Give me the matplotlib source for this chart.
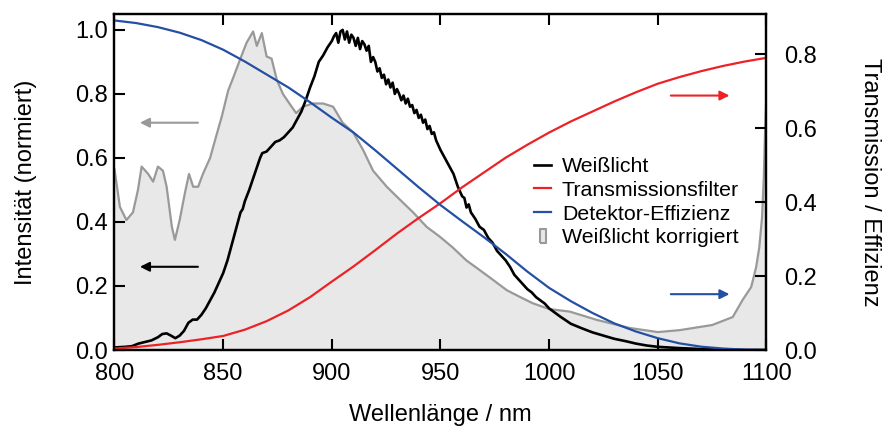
import matplotlib
matplotlib.use('Agg')
import matplotlib.pyplot as plt
from matplotlib.lines import Line2D
import numpy as np

plt.rcParams['font.family'] = ['Liberation Sans', 'DejaVu Sans']

# Weisslicht (black), left axis
wl_black = [800, 805, 808, 811, 814, 817, 820, 822, 824, 826, 828, 830, 832, 834, 836, 838,
            840, 842, 844, 846, 848, 850, 852, 854, 856, 858, 859, 860, 862, 864, 866, 867,
            868, 870, 872, 874, 876, 878, 880, 882, 884, 886, 888, 890, 892, 894, 896, 898,
            900, 901, 902, 903, 904, 905, 906, 907, 908, 909, 910, 911, 912, 913, 914, 915,
            916, 917, 918, 919, 920, 921, 922, 923, 924, 925, 926, 927, 928, 929, 930, 931,
            932, 933, 934, 935, 936, 937, 938, 939, 940, 941, 942, 943, 944, 945, 946, 947,
            948, 950, 952, 954, 956, 958, 960, 961, 962, 963, 964, 966, 968, 970, 972, 974,
            976, 978, 980, 982, 984, 986, 988, 990, 992, 994, 996, 998, 1000, 1005, 1010,
            1015, 1020, 1025, 1030, 1035, 1040, 1045, 1050, 1060, 1070, 1080, 1090, 1100]
int_black = [0.008, 0.01, 0.012, 0.02, 0.025, 0.03, 0.04, 0.05, 0.052, 0.045, 0.037, 0.045,
             0.06, 0.085, 0.095, 0.095, 0.11, 0.13, 0.155, 0.18, 0.21, 0.24, 0.28, 0.33, 0.38,
             0.43, 0.44, 0.465, 0.5, 0.54, 0.58, 0.6, 0.615, 0.62, 0.635, 0.65, 0.655, 0.665,
             0.68, 0.695, 0.72, 0.745, 0.78, 0.82, 0.855, 0.9, 0.92, 0.945,
             0.965, 0.98, 0.99, 0.96, 0.995, 1.0, 0.97, 0.995, 0.96, 0.985, 0.975, 0.95,
             0.975, 0.94, 0.965, 0.955, 0.935, 0.95, 0.9, 0.915, 0.9, 0.87, 0.88, 0.85,
             0.86, 0.83, 0.845, 0.82, 0.835, 0.8, 0.815, 0.8, 0.78, 0.795, 0.77, 0.785, 0.76,
             0.765, 0.74, 0.75, 0.725, 0.735, 0.71, 0.72, 0.69, 0.7, 0.675, 0.68, 0.655,
             0.625, 0.6, 0.575, 0.55, 0.51, 0.48, 0.475, 0.445, 0.455, 0.43, 0.41, 0.385,
             0.375, 0.35, 0.335, 0.31, 0.295, 0.28, 0.26, 0.235, 0.22, 0.205, 0.19, 0.18,
             0.165, 0.155, 0.145, 0.13, 0.105, 0.082, 0.068, 0.055, 0.045, 0.035, 0.028, 0.02,
             0.014, 0.01, 0.006, 0.003, 0.001, 0.0, 0.0]

# Weisslicht korrigiert (grey, filled), left axis
wl_grey = [800, 802.5, 805.5, 808.5, 810.8, 812.5, 815.5, 817.8, 820, 822.3, 824, 826.4,
           827.8, 830, 832.4, 834.3, 836.2, 838.5, 840.7, 844, 846.3, 849.4, 852.3, 854.6,
           857.7, 860.8, 863.8, 865.5, 867.8, 870, 872.3, 874.7, 877.5, 880.5, 883.6, 886.7,
           891.3, 896, 900.6, 905, 909.8, 914.4, 919, 925.3, 931.3, 937.4, 943.6, 949.7,
           955.7, 961.9, 968, 974, 980.5, 986.5, 992.5, 1000, 1009.5, 1022, 1037, 1050,
           1060, 1075, 1084.5, 1089, 1093, 1095.3, 1096.7, 1098, 1098.8, 1099.3, 1100]
int_grey = [0.565, 0.447, 0.406, 0.43, 0.5, 0.573, 0.55, 0.526, 0.573, 0.56, 0.51, 0.385,
            0.344, 0.406, 0.49, 0.55, 0.51, 0.51, 0.55, 0.6, 0.656, 0.73, 0.81, 0.85, 0.906,
            0.96, 0.995, 0.95, 0.99, 0.917, 0.91, 0.844, 0.8, 0.77, 0.74, 0.76, 0.77, 0.77,
            0.76, 0.71, 0.68, 0.625, 0.56, 0.51, 0.47, 0.43, 0.385, 0.354, 0.32, 0.28, 0.25,
            0.22, 0.187, 0.166, 0.146, 0.128, 0.12, 0.094, 0.069, 0.056, 0.062, 0.078, 0.103,
            0.156, 0.197, 0.26, 0.32, 0.415, 0.54, 0.666, 0.8]

# Transmissionsfilter (red) and Detektor-Effizienz (blue), right axis
wl_smooth = [800, 810, 820, 830, 840, 850, 860, 870, 880, 890, 900, 910, 920, 930, 940, 950,
             960, 970, 980, 990, 1000, 1010, 1020, 1030, 1040, 1050, 1060, 1070, 1080, 1090, 1100]
trans_filter = [0.004, 0.008, 0.014, 0.021, 0.029, 0.038, 0.055, 0.078, 0.107, 0.143, 0.185,
                0.226, 0.27, 0.315, 0.357, 0.397, 0.44, 0.48, 0.52, 0.555, 0.588, 0.618, 0.645,
                0.672, 0.697, 0.72, 0.738, 0.754, 0.768, 0.78, 0.79]
det_eff = [0.891, 0.884, 0.873, 0.858, 0.838, 0.812, 0.78, 0.745, 0.71, 0.67, 0.628, 0.588,
           0.54, 0.49, 0.44, 0.392, 0.348, 0.305, 0.26, 0.212, 0.168, 0.132, 0.1, 0.072, 0.05,
           0.032, 0.018, 0.009, 0.004, 0.001, 0.0]

grey = '#999999'
red = '#ec2227'
blue = '#2450a4'

fig = plt.figure(figsize=(8.84, 4.30), dpi=100)
ax = fig.add_axes([0.1295, 0.186, 0.7375, 0.781])
ax2 = ax.twinx()

ax.fill_between(wl_grey, int_grey, 0, color='#e8e8e8', lw=0)
ax.plot(wl_grey, int_grey, color=grey, lw=1.6)
ax.plot(wl_black, int_black, color='black', lw=1.9)
ax2.plot(wl_smooth, trans_filter, color=red, lw=1.6)
ax2.plot(wl_smooth, det_eff, color=blue, lw=1.6)

ax.set_xlim(800, 1100)
ax.set_ylim(0, 1.049)
ax2.set_ylim(0, 0.908)
ax.set_xticks([800, 850, 900, 950, 1000, 1050, 1100])
ax.set_yticks([0.0, 0.2, 0.4, 0.6, 0.8, 1.0])
ax2.set_yticks([0.0, 0.2, 0.4, 0.6, 0.8])
ax.yaxis.set_major_formatter(matplotlib.ticker.FormatStrFormatter('%.1f'))
ax2.yaxis.set_major_formatter(matplotlib.ticker.FormatStrFormatter('%.1f'))

ax.tick_params(axis='x', direction='in', length=8, width=1.5, top=True, labelsize=17, pad=9)
ax.tick_params(axis='y', direction='in', length=8, width=1.5, labelsize=17, pad=5)
ax2.tick_params(axis='y', direction='in', length=8, width=1.5, labelsize=17, pad=13)
for a in (ax, ax2):
    for s in a.spines.values():
        s.set_linewidth(1.6)

ax.set_xlabel('Wellenlänge / nm', fontsize=17, labelpad=14)
ax.set_ylabel('Intensität (normiert)', fontsize=17, labelpad=27)
ax2.set_ylabel('Transmission / Effizienz', fontsize=17, rotation=270, labelpad=46)

# arrows showing which axis each curve belongs to
arr = dict(arrowstyle='-|>', lw=1.5, mutation_scale=14, shrinkA=0, shrinkB=0)
ax.annotate('', xy=(811.7, 0.71), xytext=(838.4, 0.71), arrowprops=dict(arr, color=grey))
ax.annotate('', xy=(811.7, 0.26), xytext=(838.4, 0.26), arrowprops=dict(arr, color='black'))
ax2.annotate('', xy=(1083, 0.688), xytext=(1056, 0.688), arrowprops=dict(arr, color=red))
ax2.annotate('', xy=(1083, 0.151), xytext=(1056, 0.151), arrowprops=dict(arr, color=blue))

rect = [(-0.5, -1), (0.5, -1), (0.5, 1), (-0.5, 1), (-0.5, -1)]
handles = [Line2D([], [], color='black', lw=1.9),
           Line2D([], [], color=red, lw=1.6),
           Line2D([], [], color=blue, lw=1.6),
           Line2D([], [], ls='none', marker=rect, markersize=10, mfc='#e8e8e8', mec=grey, mew=1.5)]
labels = ['Weißlicht', 'Transmissionsfilter', 'Detektor-Effizienz', 'Weißlicht korrigiert']
ax.legend(handles, labels, loc='upper left', bbox_to_anchor=(0.627, 0.606), frameon=False,
          fontsize=15.4, handlelength=0.8, handletextpad=0.5, labelspacing=0.22, borderpad=0)

fig.savefig('out.png', dpi=100)
